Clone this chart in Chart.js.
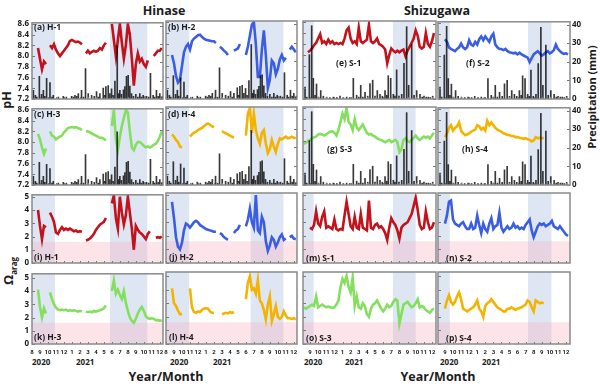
<!DOCTYPE html>
<html>
<head>
<meta charset="utf-8">
<script src="https://cdn.jsdelivr.net/npm/chart.js@4.4.1/dist/chart.umd.min.js"></script>
<style>
  body { margin: 0; width: 600px; height: 388px; position: relative; overflow: hidden; background: #fff;
         font-family: "Open Sans", sans-serif; font-weight: bold; color: #1b1b1b; }
  canvas { position: absolute; }
  .txt { position: absolute; white-space: nowrap; line-height: 1; }
  .ctr { transform: translate(-50%, -50%); }
  .rot { transform: translate(-50%, -50%) rotate(-90deg); }
  .plab { position: absolute; white-space: nowrap; line-height: 1; font-size: 8.5px; }
</style>
</head>
<body>
<div class="txt ctr" style="left:164px;top:11px;font-size:12.5px">Hinase</div>
<div class="txt ctr" style="left:437px;top:11px;font-size:12.5px">Shizugawa</div>
<div class="txt rot" style="left:7px;top:100px;font-size:12.5px">pH</div>
<div class="txt rot" style="left:10px;top:271px;font-size:13px">&Omega;<sub style="font-size:8px">arag</sub></div>
<div class="txt rot" style="left:591px;top:97px;font-size:11px">Precipitation (mm)</div>
<div class="txt" style="left:32px;top:358px;font-size:8px">2020</div>
<div class="txt" style="left:76px;top:358px;font-size:8px">2021</div>
<div class="txt" style="left:170px;top:358px;font-size:8px">2020</div>
<div class="txt" style="left:213px;top:358px;font-size:8px">2021</div>
<div class="txt" style="left:304px;top:358px;font-size:8px">2020</div>
<div class="txt" style="left:345px;top:358px;font-size:8px">2021</div>
<div class="txt" style="left:440px;top:358px;font-size:8px">2020</div>
<div class="txt" style="left:482px;top:358px;font-size:8px">2021</div>
<div class="txt ctr" style="left:166px;top:377px;font-size:12.5px">Year/Month</div>
<div class="txt ctr" style="left:438px;top:377px;font-size:12.5px">Year/Month</div>

<script>
// time grids (month number counted from Jan 2020, so 13 = Jan 2021)
const HT = [8,8.25,8.5,8.75,9,9.25,9.5,9.75,10,10.25,10.5,10.75,11,11.25,11.5,11.75,12,12.25,12.5,12.75,
  13,13.25,13.5,13.75,14,14.25,14.5,14.75,15,15.25,15.5,15.75,16,16.25,16.5,16.75,17,17.25,17.5,17.75,
  18,18.25,18.5,18.75,19,19.25,19.5,19.75,20,20.25,20.5,20.75,21,21.25,21.5,21.75,22,22.25,22.5,22.75,
  23,23.25,23.5,23.75,24,24.25];
const ST = [8.25,8.5,8.75,9,9.25,9.5,9.75,10,10.25,10.5,10.75,11,11.25,11.5,11.75,12,12.25,12.5,12.75,
  13,13.25,13.5,13.75,14,14.25,14.5,14.75,15,15.25,15.5,15.75,16,16.25,16.5,16.75,17,17.25,17.5,17.75,
  18,18.25,18.5,18.75,19,19.25,19.5,19.75,20,20.25,20.5,20.75,21,21.25,21.5,21.75,22,22.25,22.5,22.75,
  23,23.25,23.5,23.75,24,24.25];

// pH, Hinase
const H1_PH = [null,null,null,8.15,7.95,7.75,7.9,7.85,null,
  8.2,8.15,8.22,8.12,8.05,8.0,8.05,8.1,8.15,8.2,8.28,8.3,8.28,8.26,8.27,8.25,8.22,null,
  8.05,8.1,8.05,8.08,8.1,8.08,8.1,8.15,8.12,8.2,8.25,null,null,
  8.6,8.3,8.0,8.3,8.6,8.25,7.95,8.2,8.6,8.4,7.95,7.45,7.85,8.05,7.9,7.95,7.85,7.8,7.92,null,null,
  8.0,8.05,8.1,8.1,8.15];
const H2_PH = [null,null,null,8.0,7.85,7.62,7.5,7.55,7.8,
  8.05,8.15,8.2,8.1,8.25,8.3,8.33,8.36,8.37,8.33,8.3,8.28,8.27,8.26,8.25,8.25,8.22,null,
  8.15,8.12,8.08,8.05,8.0,null,null,8.08,8.1,8.12,8.2,null,null,
  8.0,8.15,8.35,8.55,8.6,8.2,7.6,7.6,8.1,8.45,8.0,7.4,7.55,7.9,7.85,7.65,7.75,7.92,8.0,7.9,7.95,null,
  8.1,8.15,8.1,8.05];
const H3_PH = [null,null,null,8.15,8.05,7.9,7.78,7.88,null,
  8.2,8.12,8.1,8.05,8.08,8.1,8.12,8.18,8.22,8.26,8.27,8.28,8.27,8.28,8.26,8.25,8.22,null,
  8.2,8.2,8.18,8.16,8.14,8.12,8.1,8.08,8.08,8.06,8.03,null,null,
  8.3,8.6,8.05,7.85,8.1,8.3,8.45,8.6,8.55,8.2,7.9,7.85,7.95,8.0,8.0,7.97,7.93,7.9,7.92,7.9,7.92,
  7.95,7.97,8.02,8.1,8.2];
const H4_PH = [null,null,null,8.12,8.08,8.02,7.98,7.9,7.88,null,null,null,
  8.08,8.12,8.15,8.17,8.2,8.22,8.24,8.27,8.3,8.32,8.3,8.27,8.25,null,null,null,
  8.18,8.16,8.14,8.12,8.1,8.08,8.06,null,null,null,null,null,
  8.1,8.5,8.6,8.15,8.5,8.2,8.05,7.95,8.15,8.2,7.95,7.78,7.85,8.02,7.9,7.8,7.95,8.05,8.03,8.06,8.08,
  8.05,8.06,8.08,8.06,8.05];

// Omega aragonite, Hinase
const H1_OM = [null,null,null,4.0,2.8,1.8,2.8,2.7,null,
  3.8,3.5,3.1,2.3,2.2,2.5,2.7,2.5,2.6,2.5,2.6,2.5,2.4,2.45,2.35,2.4,2.35,null,
  1.7,1.75,1.85,2.0,2.2,2.5,2.7,2.9,3.0,3.1,3.4,null,null,
  4.5,5.1,3.4,2.6,5.0,3.8,2.9,3.6,5.0,3.8,2.6,1.0,2.8,2.5,2.3,2.2,2.0,1.8,2.2,2.4,null,null,
  1.9,1.95,1.9,2.0];
const H2_OM = [null,null,null,4.5,3.3,1.9,1.2,1.0,1.5,
  2.4,2.9,2.8,2.6,2.8,3.0,3.1,3.0,2.8,2.7,2.6,2.5,2.45,2.4,2.35,2.3,2.3,null,
  2.2,2.1,1.9,1.8,1.7,null,null,2.2,2.4,2.5,2.8,null,null,
  2.7,3.2,4.0,3.0,2.6,5.0,2.4,2.2,3.4,3.0,1.6,0.9,1.3,1.9,1.7,1.2,1.5,1.9,2.1,1.7,1.8,null,
  1.9,2.0,1.8,1.75];
const H3_OM = [null,null,null,4.1,2.8,2.0,2.7,2.3,null,
  3.9,3.4,3.0,2.75,2.6,2.55,2.6,2.55,2.6,2.5,2.55,2.5,2.55,2.5,2.45,2.5,2.45,null,
  2.45,2.4,2.45,2.4,2.5,2.45,2.5,2.55,2.6,2.7,2.9,null,null,
  4.0,4.8,3.8,4.1,3.7,3.4,4.0,3.1,2.5,2.0,1.75,1.6,1.9,2.3,2.6,2.8,2.5,2.1,1.95,1.9,1.95,
  1.9,1.8,1.8,1.75,1.8];
const H4_OM = [null,null,null,4.1,3.0,2.8,2.45,2.2,2.2,null,null,null,
  4.1,2.7,2.35,2.3,2.4,2.35,2.5,2.6,2.65,2.6,2.4,2.3,2.3,null,null,null,
  2.2,2.25,2.3,2.25,2.35,2.3,2.35,null,null,null,null,null,
  3.3,4.5,5.0,4.0,4.1,3.7,4.7,3.2,3.0,2.5,1.8,2.9,3.5,1.7,2.2,2.8,2.0,1.85,2.0,2.4,2.1,
  1.9,1.9,1.85,1.9,1.8];

// pH, Shizugawa
const S1_PH = [null,null,8.05,8.08,8.12,8.18,8.22,8.3,8.38,8.22,8.25,8.2,8.28,8.22,8.25,8.2,8.22,8.2,
  8.22,8.2,8.3,8.45,8.5,8.3,8.22,8.25,8.2,8.5,8.25,8.22,8.25,8.28,8.55,8.25,8.22,8.25,8.3,8.2,8.18,
  8.15,8.1,7.85,8.0,8.12,8.08,8.05,8.08,8.05,8.08,8.1,7.98,8.08,8.15,8.22,8.3,8.45,8.35,8.15,8.12,
  8.15,8.4,8.2,8.15,8.25,8.4];
const S2_PH = [null,null,null,8.3,8.25,8.15,8.12,8.1,8.08,8.12,8.15,8.22,8.15,8.12,8.15,8.28,8.2,8.18,
  8.25,8.2,8.3,8.35,8.28,8.35,8.3,8.25,8.35,8.4,8.2,8.15,8.12,8.12,8.1,8.12,8.08,8.06,8.05,8.04,8.05,
  8.02,8.05,8.02,8.0,7.98,7.96,7.88,7.95,8.02,8.05,8.08,8.04,8.0,8.02,8.06,8.08,8.04,8.06,8.1,8.2,
  8.12,8.08,8.05,8.03,8.04,8.02];
const S3_PH = [7.95,7.97,8.0,8.02,8.05,8.07,8.08,8.12,8.13,8.12,8.1,8.12,8.15,8.17,8.18,8.15,8.1,8.2,
  8.35,8.5,8.4,8.6,8.35,8.3,8.2,8.4,8.25,8.2,8.25,8.3,8.22,8.15,8.12,8.13,8.1,8.08,8.05,8.03,8.02,
  8.0,7.98,8.0,8.02,7.98,8.0,8.02,7.98,7.8,7.85,8.02,8.05,8.0,7.98,8.02,8.06,8.1,8.05,8.02,8.05,
  8.08,8.06,8.08,8.05,8.1,8.15];
const S4_PH = [null,null,null,8.08,8.15,8.25,8.3,8.2,8.25,8.28,8.35,8.2,8.15,8.12,8.13,8.15,8.18,8.2,
  8.22,8.3,8.28,8.22,8.25,8.2,8.38,8.3,8.35,8.3,8.25,8.22,8.2,8.18,8.15,8.14,8.12,8.12,8.1,8.1,8.08,
  8.08,8.07,8.06,8.05,8.06,8.04,8.03,8.0,8.02,8.08,8.06,8.07,8.06,8.07,
  null,null,null,null,null,null,null,null,null,null,null,null];

// Omega aragonite, Shizugawa
const S1_OM = [null,null,null,2.6,2.5,2.8,3.8,2.9,2.7,3.4,3.8,2.6,2.7,2.6,2.5,3.2,2.5,2.4,2.5,2.45,
  3.5,4.5,3.6,2.7,2.5,3.4,2.6,2.5,3.6,2.6,2.5,2.4,4.6,2.6,2.5,2.8,2.9,2.6,2.7,2.5,2.2,1.7,2.6,
  3.3,3.0,2.8,2.4,1.8,2.6,2.8,2.9,3.0,3.3,3.6,4.2,4.8,3.9,2.8,2.5,2.6,3.8,3.0,2.5,2.6,3.0];
const S2_OM = [null,null,null,2.9,3.5,4.5,4.6,3.2,2.9,2.8,2.7,2.9,3.0,2.7,2.5,2.5,2.9,2.5,2.6,3.5,
  2.8,2.2,2.9,2.5,2.3,2.9,3.3,2.5,2.7,2.8,3.7,2.6,2.3,2.5,2.7,2.5,2.6,2.9,2.6,2.7,2.5,2.6,2.5,
  2.8,3.0,3.2,2.4,1.9,2.3,2.7,2.9,2.8,2.9,2.7,2.8,2.9,3.1,2.7,2.6,2.5,2.7,2.5,2.3,2.1,2.0];
const S3_OM = [2.7,2.6,2.7,2.8,2.9,2.8,3.5,2.7,2.8,2.9,2.8,2.7,2.75,2.7,2.65,2.7,2.9,3.2,4.2,4.8,
  4.5,5.0,4.2,3.8,4.9,2.8,3.5,2.7,2.6,3.0,2.8,2.2,2.0,2.6,2.9,3.0,3.2,2.9,2.6,2.4,
  2.6,2.9,2.7,2.8,3.1,3.3,3.2,1.5,2.2,2.9,3.0,3.1,2.9,2.7,2.8,3.0,3.3,2.7,2.8,2.7,2.5,2.4,2.3,2.5,2.6];
const S4_OM = [null,null,null,2.6,3.2,3.6,3.1,2.9,3.1,3.5,3.8,3.3,2.6,2.5,2.4,2.5,2.6,2.7,2.9,3.2,
  2.6,2.4,2.0,2.8,3.0,3.1,3.3,3.1,2.9,2.7,2.6,2.5,2.4,2.4,2.6,2.6,2.7,2.6,2.5,2.6,2.65,2.7,2.8,
  2.9,3.2,3.1,2.7,2.4,3.2,3.1,3.0,3.05,3.0,
  null,null,null,null,null,null,null,null,null,null,null,null];

// daily precipitation (mm)
const HP_T = [8.17,8.42,8.6,8.92,9.2,9.42,9.6,9.83,10.25,10.5,10.67,11.3,11.92,12.3,12.96,13.15,13.38,
  13.6,13.8,14.2,14.45,14.7,15.04,15.46,15.8,16.08,16.3,16.5,16.92,17.1,17.25,17.54,17.75,17.96,18.15,
  18.38,18.67,18.85,19.0,19.2,19.45,19.63,19.83,20.04,20.25,20.46,20.7,21.0,21.25,21.5,21.7,21.92,
  22.1,22.33,22.6,22.83,23.17,23.35,23.58,23.8,24.0,24.15,24.33];
const HP = [4.7,2,1,12.4,2.5,4.7,1.5,11.2,9,1,2,1,1.5,1,1.5,1,2,
  1.5,3,4.7,1,16.6,3,2,1.5,4,1,3,6,2,6.8,7.3,3,5.6,2,
  9.8,29,3,4.7,2.5,5,6.8,12.4,12.9,7,3,1.5,2.5,1,3,1,2,
  1.2,1.5,1,14,2,1,4.7,1.5,3,1,1.5];
const SP_T = [8.39,8.6,8.92,9.21,9.41,9.62,9.8,10.05,10.32,10.64,11.05,11.45,11.87,12.3,12.69,13.1,13.51,
  13.9,14.33,14.74,15.0,15.24,15.5,15.77,16.1,16.38,16.71,17.0,17.28,17.61,17.9,18.23,18.45,18.63,18.93,
  19.25,19.45,19.66,19.95,20.28,20.56,20.89,21.14,21.51,21.8,22.12,22.53,22.8,23.02,23.3,23.55,23.8,24.09];
const SP = [6.4,1,23.6,39,11,2,8,1,4.5,1.5,1,0.8,1,0.8,1.5,0.8,1,
  0.8,11,2,1,7.3,1,3.6,1.5,8.2,10,1.5,4.5,2.5,1.5,4.5,2,12.4,11,
  2.5,1.5,15.5,1.5,2.5,19,38.5,7.3,29,2,4.5,2.5,1,1.5,1,1,0.8,1.5];

// ticks and shaded periods
const H_MONTHS = [8,9,10,11,12,13,14,15,16,17,18,19,20,21,22,23,24];
const S_MONTHS = [9,10,11,12,13,14,15,16,17,18,19,20,21,22,23,24];
const PH_TICKS = [7.2,7.4,7.6,7.8,8.0,8.2,8.4,8.6];
const OM_TICKS = [0,1,2,3,4,5];
const PR_TICKS = [0,10,20,30,40];
const BANDS_HL = [[8, 10.88], [17.76, 22.43]];
const BANDS_HR = [[8, 10.9], [18.6, 22.7]];
const BANDS_SL = [[8.14, 9.45], [19.2, 22.0]];
const BANDS_SR = [[8.14, 9.6], [19.3, 22.2]];
const OMEGA_LIMIT = 1.6;

const RED = '#c3121b', BLUE = '#3a5de2', GREEN = '#84df5e', YELLOW = '#f2b400';

const COL_X = [32, 166, 303, 438];
const COL_W = [131, 131, 133, 132];
const ROW_Y = [21, 107, 193, 272];
const ROW_H = [78, 78, 70, 72];
const OM_MAX = [0, 0, 5.15, 5.3];

const PANELS = [
  {col:0,row:0,v:H1_PH,c:RED,   lab:'(a) H-1',lx:34, ly:23, b:BANDS_HL},
  {col:1,row:0,v:H2_PH,c:BLUE,  lab:'(b) H-2',lx:168,ly:23, b:BANDS_HR},
  {col:0,row:1,v:H3_PH,c:GREEN, lab:'(c) H-3',lx:34, ly:110,b:BANDS_HL},
  {col:1,row:1,v:H4_PH,c:YELLOW,lab:'(d) H-4',lx:168,ly:110,b:BANDS_HR},
  {col:2,row:0,v:S1_PH,c:RED,   lab:'(e) S-1',lx:336,ly:59, b:BANDS_SL},
  {col:3,row:0,v:S2_PH,c:BLUE,  lab:'(f) S-2',lx:466,ly:59, b:BANDS_SR},
  {col:2,row:1,v:S3_PH,c:GREEN, lab:'(g) S-3',lx:327,ly:145,b:BANDS_SL},
  {col:3,row:1,v:S4_PH,c:YELLOW,lab:'(h) S-4',lx:462,ly:145,b:BANDS_SR},
  {col:0,row:2,v:H1_OM,c:RED,   lab:'(i) H-1',lx:34, ly:253,b:BANDS_HL},
  {col:1,row:2,v:H2_OM,c:BLUE,  lab:'(j) H-2',lx:169,ly:253,b:BANDS_HR},
  {col:0,row:3,v:H3_OM,c:GREEN, lab:'(k) H-3',lx:34, ly:333,b:BANDS_HL},
  {col:1,row:3,v:H4_OM,c:YELLOW,lab:'(l) H-4',lx:169,ly:333,b:BANDS_HR},
  {col:2,row:2,v:S1_OM,c:RED,   lab:'(m) S-1',lx:306,ly:254,b:BANDS_SL},
  {col:3,row:2,v:S2_OM,c:BLUE,  lab:'(n) S-2',lx:446,ly:254,b:BANDS_SR},
  {col:2,row:3,v:S3_OM,c:GREEN, lab:'(o) S-3',lx:306,ly:334,b:BANDS_SL},
  {col:3,row:3,v:S4_OM,c:YELLOW,lab:'(p) S-4',lx:446,ly:334,b:BANDS_SR}
];

const FAM = '"Open Sans", sans-serif';
const NO_GRID = {display: false, drawTicks: false, tickLength: 0};

// shaded periods under the data, frame and inward ticks on top
const framePlugin = {
  id: 'frame',
  beforeDatasetsDraw(chart, args, opts) {
    const {ctx, chartArea: a, scales} = chart;
    ctx.save();
    ctx.beginPath(); ctx.rect(a.left, a.top, a.width, a.height); ctx.clip();
    ctx.fillStyle = 'rgba(168,188,226,0.38)';
    opts.bands.forEach(b => {
      const x1 = scales.x.getPixelForValue(b[0]), x2 = scales.x.getPixelForValue(b[1]);
      ctx.fillRect(x1, a.top, x2 - x1, a.height);
    });
    if (opts.pink) {
      const yp = scales.y.getPixelForValue(OMEGA_LIMIT);
      ctx.fillStyle = 'rgba(250,170,182,0.32)';
      ctx.fillRect(a.left, yp, a.width, a.bottom - yp);
    }
    ctx.restore();
  },
  afterDraw(chart) {
    const {ctx, chartArea: a, scales} = chart;
    ctx.save();
    ctx.strokeStyle = '#777'; ctx.lineWidth = 1;
    ctx.beginPath();
    scales.y.ticks.forEach(t => {
      const yy = Math.round(scales.y.getPixelForValue(t.value)) + 0.5;
      ctx.moveTo(a.left, yy); ctx.lineTo(a.left + 3, yy);
    });
    if (scales.y2) scales.y2.ticks.forEach(t => {
      const yy = Math.round(scales.y2.getPixelForValue(t.value)) + 0.5;
      ctx.moveTo(a.right, yy); ctx.lineTo(a.right - 3, yy);
    });
    scales.x.ticks.forEach(t => {
      const xx = Math.round(scales.x.getPixelForValue(t.value)) + 0.5;
      ctx.moveTo(xx, a.bottom); ctx.lineTo(xx, a.bottom - 2);
    });
    ctx.stroke();
    ctx.strokeStyle = '#8a8a8a'; ctx.lineWidth = 1.5;
    ctx.strokeRect(a.left, a.top, a.width, a.height);
    ctx.restore();
  }
};

function makePanel(p) {
  const x0 = COL_X[p.col], y0 = ROW_Y[p.row], w = COL_W[p.col], h = ROW_H[p.row];
  const isPH = p.row < 2, isH = p.col < 2, bottom = p.row === 3;
  const cv = document.createElement('canvas');
  cv.width = w + 56; cv.height = h + 24;
  cv.style.left = (x0 - 30) + 'px'; cv.style.top = (y0 - 6) + 'px';
  cv.style.width = cv.width + 'px'; cv.style.height = cv.height + 'px';
  document.body.appendChild(cv);

  const times = isH ? HT : ST;
  const datasets = [{
    type: 'line',
    data: times.map((t, i) => ({x: t, y: p.v[i]})),
    borderColor: p.c, borderWidth: 2.6, pointRadius: 0, tension: 0, spanGaps: false,
    yAxisID: 'y', order: 2
  }];
  if (isPH) {
    const pt = isH ? HP_T : SP_T, pv = isH ? HP : SP;
    datasets.push({
      type: 'bar',
      data: pt.map((t, i) => ({x: t, y: pv[i]})),
      backgroundColor: 'rgba(0,0,0,0.78)', barThickness: 1,
      yAxisID: 'y2', order: 1
    });
  }

  const scales = {
    x: {
      type: 'linear', min: isH ? 8 : 8.14, max: isH ? 24.4 : 24.5, offset: false,
      grid: NO_GRID, border: {display: false},
      ticks: {display: bottom, autoSkip: false, maxRotation: 0, padding: 5, color: '#1b1b1b',
              font: {family: 'Roboto, "Open Sans", sans-serif', weight: 'bold', size: 6},
              callback: v => v > 12 ? v - 12 : v},
      afterBuildTicks: s => { s.ticks = (isH ? H_MONTHS : S_MONTHS).map(v => ({value: v})); },
      afterFit: s => { s.height = 18; }
    },
    y: {
      position: 'left', min: isPH ? 7.2 : 0, max: isPH ? 8.62 : OM_MAX[p.row],
      grid: NO_GRID, border: {display: false},
      ticks: {display: p.col === 0, autoSkip: false, padding: 3, color: '#1b1b1b',
              font: {family: FAM, weight: 'bold', size: 8},
              callback: v => isPH ? v.toFixed(1) : v},
      afterBuildTicks: s => { s.ticks = (isPH ? PH_TICKS : OM_TICKS).map(v => ({value: v})); },
      afterFit: s => { s.width = 30; }
    }
  };
  if (isPH) {
    scales.y2 = {
      position: 'right', min: 0, max: 41.5,
      grid: NO_GRID, border: {display: false},
      ticks: {display: p.col === 3, autoSkip: false, padding: 2, color: '#1b1b1b',
              font: {family: FAM, weight: 'bold', size: 8}},
      afterBuildTicks: s => { s.ticks = PR_TICKS.map(v => ({value: v})); },
      afterFit: s => { s.width = 26; }
    };
  }

  new Chart(cv, {
    type: 'line',
    data: {datasets},
    options: {
      responsive: false, animation: false, events: [],
      layout: {padding: {top: 6, right: isPH ? 0 : 26, left: 0, bottom: 0}},
      scales,
      plugins: {legend: {display: false}, tooltip: {enabled: false},
                frame: {bands: p.b, pink: !isPH}}
    },
    plugins: [framePlugin]
  });

  const d = document.createElement('div');
  d.className = 'plab';
  d.style.left = p.lx + 'px'; d.style.top = p.ly + 'px';
  d.textContent = p.lab;
  document.body.appendChild(d);
}

PANELS.forEach(makePanel);
</script>
</body>
</html>
